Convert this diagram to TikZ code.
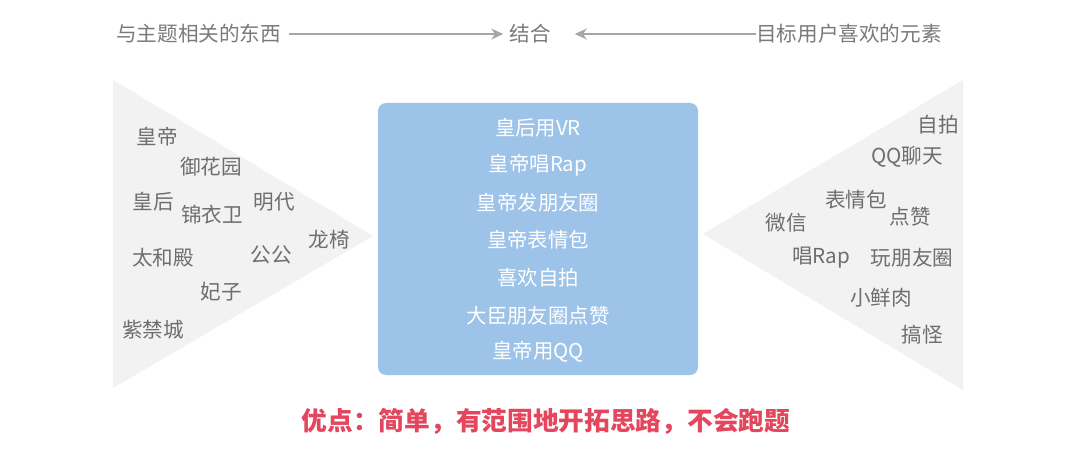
\documentclass[tikz,border=0pt]{standalone}
\usepackage{fontspec}
\setmainfont{Noto Sans CJK SC}
\usetikzlibrary{arrows.meta}
\definecolor{tri}{HTML}{F2F2F2}
\definecolor{boxblue}{HTML}{9DC3E9}
\definecolor{txtgray}{HTML}{6E6E6E}
\definecolor{toptxt}{HTML}{7A7A7A}
\definecolor{linegray}{HTML}{A6A6A6}
\definecolor{redtxt}{HTML}{E4465E}
\begin{document}
\begin{tikzpicture}[x=1pt,y=-1pt,
  word/.style={font=\fontsize{20.6}{21}\selectfont, text=txtgray, inner sep=0pt},
  topword/.style={font=\fontsize{20.6}{21}\selectfont, text=toptxt, inner sep=0pt},
  idea/.style={font=\fontsize{20.4}{21}\selectfont, text=white, inner sep=0pt},
  bigbox/.style={fill=boxblue, rounded corners=8pt, minimum width=320pt, minimum height=272pt, inner sep=0pt},
  conn/.style={draw=linegray, line width=1.5pt, -{Stealth[length=12pt,width=11pt]}},
  triangle/.style={fill=tri}
]
\useasboundingbox (0,0) rectangle (1080,449);
\fill[white] (0,0) rectangle (1080,449);

% top row
\node[topword, anchor=west] (ltop) at (116,34) {与主题相关的东西};
\node[topword] (comb) at (530,34) {结合};
\node[topword, anchor=west] (rtop) at (756,34) {目标用户喜欢的元素};
\draw[conn, shorten <=8pt, shorten >=6pt] (ltop.east) -- (comb.west);
\draw[conn, shorten >=24pt] (rtop.west) -- (comb.east);

% triangles
\fill[triangle] (113,80) -- (373,236) -- (113,388) -- cycle;
\fill[triangle] (963,80) -- (703,234) -- (963,390) -- cycle;

% left words
\node[word] (w1) at (157,137) {皇帝};
\node[word] (w2) at (211,167) {御花园};
\node[word] (w3) at (153,202) {皇后};
\node[word] (w4) at (212,215) {锦衣卫};
\node[word] (w5) at (274,202) {明代};
\node[word] (w6) at (329,240) {龙椅};
\node[word] (w7) at (163,258) {太和殿};
\node[word] (w8) at (271,255) {公公};
\node[word] (w9) at (221,292) {妃子};
\node[word] (w10) at (153,330) {紫禁城};

% right words
\node[word] (r1) at (938,125) {自拍};
\node[word] (r2) at (907,157) {QQ聊天};
\node[word] (r3) at (856,200) {表情包};
\node[word] (r4) at (910,217) {点赞};
\node[word] (r5) at (786,223) {微信};
\node[word] (r6) at (821,258) {唱Rap};
\node[word] (r7) at (912,258) {玩朋友圈};
\node[word] (r8) at (881,298) {小鲜肉};
\node[word] (r9) at (922,335) {搞怪};

% center box
\node[bigbox] (box) at (538,239) {};
\node[idea] (c1) at (538,128) {皇后用VR};
\node[idea] (c2) at (538,165) {皇帝唱Rap};
\node[idea] (c3) at (538,203) {皇帝发朋友圈};
\node[idea] (c4) at (538,240) {皇帝表情包};
\node[idea] (c5) at (538,278) {喜欢自拍};
\node[idea] (c6) at (538,316) {大臣朋友圈点赞};
\node[idea] (c7) at (538,352) {皇帝用QQ};

% bottom
\node[inner sep=0pt, text=redtxt, font=\fontsize{25.7}{26}\selectfont\bfseries] (note) at (546,421) {优点：简单，有范围地开拓思路，不会跑题};
\end{tikzpicture}
\end{document}
